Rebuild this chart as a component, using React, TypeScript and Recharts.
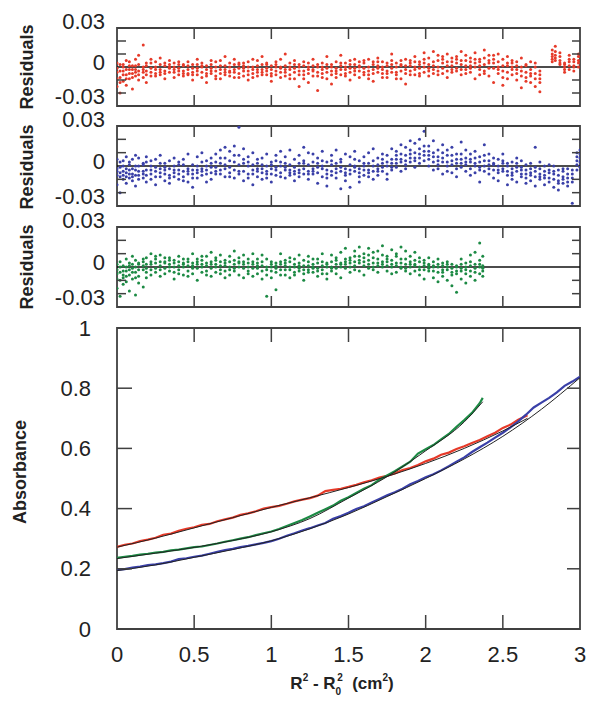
import React from 'react';
import { ComposedChart, Scatter, Line, XAxis, YAxis, ReferenceLine, ReferenceArea } from 'recharts';

const RED = '#e63a29';
const BLUE = '#3a40a8';
const GREEN = '#1c8a44';
const FRAME = '#404040';
const FONT = '"Liberation Sans", Arial, sans-serif';

const X_TICKS = [0, 0.5, 1, 1.5, 2, 2.5, 3];
const RES_TICKS = [-0.03, -0.02, -0.01, 0, 0.01, 0.02, 0.03];
const ABS_TICKS = [0, 0.2, 0.4, 0.6, 0.8, 1];

// residual rows: [x * 100, r1..r5] with residuals in units of 0.001
const RED_RES: number[][] = [
  [0, -4, -15, 3, -9, -1], [2, -8, 2, -20, -3, -12], [4, 2, -11, -3, -6, 0], [6, -6, 5, -14, -2, -9],
  [8, -2, -9, 4, -5, 1], [10, 1, -17, -5, -8, -2], [12, -7, 6, -2, -4, 1], [14, -3, 9, -10, -6, 2],
  [17, 17, -4, -8, 0, -2], [19, 3, -6, -12, -3, 1], [22, -1, 6, -7, -4, 3], [25, -5, 4, -2, -7, 0],
  [28, 2, -6, 7, -2, -4], [31, -3, 1, -9, -5, 3], [34, 5, -4, 0, -1, 2], [37, -2, 3, -8, -4, 0],
  [40, -6, 2, 4, -3, -1], [43, 1, -3, -7, 2, -5], [46, 4, -5, 1, -2, -6], [49, -4, 2, -10, -1, -6],
  [52, -1, 6, -6, -3, 2], [55, 3, -8, 0, -4, 1], [58, -5, 1, -12, -2, -7], [61, 2, -3, 5, -5, -1],
  [64, -7, 0, 4, -3, -9], [67, -2, 5, -9, -5, 1], [70, 1, -6, 8, -2, -4], [73, -4, 3, -3, -7, 0],
  [76, 6, -2, -8, -4, 2], [79, -1, 2, -5, -8, 3], [82, 3, -7, 1, -3, -1], [85, -3, 4, -10, -6, 0],
  [88, 0, -5, 6, -2, -8], [91, 5, -2, -7, -4, 1], [94, -2, 8, -4, -6, 2], [97, 2, -6, 3, -1, -3],
  [100, -5, 1, -11, -2, -7], [103, 4, -3, 0, -6, 2], [106, -1, 6, -8, -4, 0], [109, 1, -4, 10, -2, -7],
  [112, -6, 3, -2, -9, 0], [115, 2, -9, 5, -4, -1], [118, -3, 0, -15, -6, 2], [121, 4, -6, 1, -3, -9],
  [124, -2, 3, -12, -5, 0], [127, 1, -7, 6, -3, -2], [130, -4, 2, -18, -7, 0], [133, 3, -5, 0, -2, -8],
  [136, -1, 8, -9, -4, 2], [139, 2, -3, -13, -6, 0], [142, -5, 4, -1, -3, -8], [145, 1, -6, 9, -2, 3],
  [148, -2, 3, -7, -5, 0], [151, 5, -1, -10, -4, 2], [154, -3, 2, 6, -6, -1], [157, 0, -8, 4, -3, 1],
  [160, 3, -4, -1, -6, 5], [163, -6, 6, -3, 0, -9], [166, 2, -2, -11, -5, 4], [169, -1, 4, 7, -4, 1],
  [172, 4, -5, 0, -2, -8], [175, -3, 1, -8, 3, -5], [178, 2, 10, -4, -1, 5], [181, -4, 3, -6, 0, -9],
  [184, 1, -9, 5, -3, 2], [187, -2, 6, -13, -5, 1], [190, 5, -3, 1, -6, 3], [193, 0, 8, -6, -2, 4],
  [196, -5, 2, 4, -1, -7], [199, 3, -4, 11, 0, 6], [202, -1, 7, -7, 2, -3], [205, 4, -2, 12, -5, 1],
  [208, -3, 9, 0, 5, -6], [211, 6, -5, 3, -1, 8], [214, 1, 10, -8, -3, 4], [217, -4, 4, 7, 1, -2],
  [220, 8, -1, -3, 3, 6], [223, 2, 12, -6, -2, 5], [226, -2, 5, 9, 1, -5], [229, 7, -4, 1, 4, -1],
  [232, 0, 11, -9, 3, 6], [235, 4, -6, 6, -2, 1], [238, -3, 13, 2, 7, -5], [241, 9, -1, -7, 3, 5],
  [244, 3, 6, -12, -1, 9], [247, -5, 10, 0, 4, -2], [250, 6, -3, -14, 1, -8], [253, 1, 8, -9, -4, 3],
  [256, -6, 3, 5, -2, 0], [259, 4, -10, -2, -5, 1], [262, -3, 7, -16, -7, 0], [265, 2, -8, 1, -4, -11],
  [268, -7, 4, -12, -2, -5], [271, 0, -15, -5, -9, 3], [274, -9, -3, -19, -6, -12],
  [282, 10, 6, 4, 13, 8], [284, 16, 9, 12, 5, 7], [287, 5, 8, 2, 11, 3], [290, 0, -4, 3, 2, -2],
  [293, 6, -2, 9, 1, 4], [296, -3, 4, 1, 0, 6], [299, 8, 0, 5, 3, 10],
];

const BLUE_RES: number[][] = [
  [0, -2, -14, 5, -7, -4], [2, -8, 3, -20, -5, -1], [4, 4, -10, -4, -7, 0], [6, -5, 7, -13, -2, -8],
  [8, 1, -9, -3, -6, 3], [10, -11, 5, -6, -2, -8], [12, -3, 8, -15, -7, 0], [14, 6, -7, 0, -4, -10],
  [17, -9, 2, -4, -6, 1], [19, 3, -12, 7, -3, -7], [22, -6, 0, -10, -3, 4], [25, 5, -4, -14, -8, -1],
  [28, -2, 8, -8, -5, 2], [31, 2, -11, -1, -6, -3], [34, -7, 4, -13, -2, -9], [37, 0, -5, 6, -8, -3],
  [40, -10, 3, -3, -6, 1], [43, 5, -8, 1, -4, -11], [46, -4, 9, -12, -2, -6], [49, 1, -6, -16, -3, -9],
  [52, 7, -3, -9, -5, 0], [55, -2, 10, -7, -4, 3], [58, 4, -12, 0, -6, -3], [61, -5, 6, -10, -1, 2],
  [64, 9, -1, -6, -4, 3], [67, -3, 12, 2, -6, 6], [70, 6, -8, 14, -2, 1], [73, -1, 11, -5, 4, -8],
  [76, 15, 3, -9, -3, 8], [79, 29, -4, 8, 1, -6], [82, 2, 13, -11, -4, 5], [85, -6, 7, 0, -9, 3],
  [88, 10, -3, -14, -6, 1], [91, -2, 5, -8, -4, 2], [94, 6, -10, 1, -5, -2], [97, -4, 9, -6, 0, -9],
  [100, 3, -12, -2, -6, 1], [103, -7, 4, 8, -3, -1], [106, 0, -5, 11, -8, 3], [109, 7, -9, -3, -1, 2],
  [112, -3, 12, -7, -5, 1], [115, 5, -1, -11, -4, -6], [118, -8, 8, 2, -3, -5], [121, 2, -6, 14, -2, 4],
  [124, -4, 10, -10, 1, -6], [127, 9, -2, -6, -4, 3], [130, -1, 6, -13, -5, 2], [133, 4, -8, 11, -2, 0],
  [136, -6, 3, -15, -3, -9], [139, 8, -4, 1, -7, 4], [142, -2, 12, -9, -5, 2], [145, 3, -17, 5, -4, -1],
  [148, -5, 9, -11, -2, -7], [151, 7, -3, -16, -6, 1], [154, -1, 11, 0, -4, 5], [157, 4, -8, -12, -2, -5],
  [160, -7, 2, 7, -3, 0], [163, 10, -5, -3, 2, -8], [166, 0, -10, 13, -4, 4], [169, 6, -2, -7, 1, -4],
  [172, -4, 9, 2, -1, 5], [175, 8, -6, -10, 0, 3], [178, 2, 13, -3, 5, -1], [181, 11, -1, 5, 2, 8],
  [184, 5, 16, -4, 3, 9], [187, -2, 8, 14, 4, 1], [190, 12, 3, 19, 6, 9], [193, 6, 17, -1, 10, 4],
  [196, 20, 9, 2, 13, 6], [199, 4, 26, 11, 8, 15], [202, 15, 0, 8, 5, 11], [205, 7, 19, -3, 10, 3],
  [208, -2, 12, 4, 7, 1], [211, 10, -6, 16, 3, 6], [214, 3, 8, -4, 12, 0], [217, -5, 14, 1, 4, 8],
  [220, 9, 2, -8, 5, -2], [223, -1, 18, 5, 2, 9], [226, 6, -4, 12, 1, 3], [229, -7, 3, 9, -2, 5],
  [232, 2, 11, -5, 0, 6], [235, -3, 7, -12, -1, 3], [238, 8, 16, 0, 4, -4], [241, -6, 4, -2, 1, 9],
  [244, 1, -9, 6, -3, 2], [247, 5, -3, -11, 0, -5], [250, -4, 9, 2, -2, 4], [253, 0, -7, -14, -4, 2],
  [256, -10, 3, -5, -2, -7], [259, 6, -12, -1, -4, 2], [262, -3, -8, 4, -6, -1], [265, -13, 1, -6, -3, -9],
  [268, 2, -5, -11, -2, -7], [271, -8, 14, -15, -4, -1], [274, -2, -10, 3, -6, -8], [277, -14, -4, -7, -9, 0],
  [280, 1, -9, -12, -5, -3], [283, -6, -16, 0, -10, -4], [286, -11, -3, -18, -7, -13], [289, -4, -8, -13, -2, -10],
  [292, -9, -15, -2, -6, -12], [295, -28, -6, -12, -3, -9], [298, 4, 10, -3, 7, 1], [300, 12, 6, -1, 9, 3],
];

const GREEN_RES: number[][] = [
  [0, -5, -16, 2, -9, -2], [2, -10, 4, -22, -4, 0], [4, 1, -8, -13, -3, -6], [6, -3, 6, -11, 0, -7],
  [8, 3, -6, -18, -2, 1], [10, -1, 8, -9, 2, -4], [12, 5, -4, -21, 0, -8], [14, -7, 2, -12, 3, -2],
  [17, 4, -2, -15, 1, 6], [19, -4, 7, -8, 2, -1], [22, 2, -6, 10, 4, -2], [25, 6, -1, -4, 3, 8],
  [28, -2, 9, -7, 1, 4], [31, 3, -5, 4, -1, 7], [34, 7, 0, -3, 2, 5], [37, -4, 5, -9, 0, 3],
  [40, 1, 8, -2, 4, -5], [43, -6, 3, 6, 0, 2], [46, 4, -3, -7, 1, 6], [49, 10, 1, -5, 3, -1],
  [52, -1, 6, -10, 2, 4], [55, 5, -4, 2, 0, 8], [58, -3, 8, -6, 1, 3], [61, 2, -7, 11, 4, -1],
  [64, 7, 0, -4, 2, 5], [67, -5, 4, 9, 1, -2], [70, 1, -8, 5, 3, -3], [73, 8, -2, -6, 0, 4],
  [76, -3, 5, 12, 2, -1], [79, 4, -6, 0, 3, 7], [82, -1, 9, -8, 2, 4], [85, 6, -3, 3, 0, -5],
  [88, -7, 2, 10, 4, -1], [91, 3, -5, -1, 1, 6], [94, 9, 1, -9, -3, 4], [97, -2, 6, -22, 0, -6],
  [100, 4, -8, 0, 2, -3], [103, -4, 3, -17, -1, 1], [106, 2, 10, -6, 4, -2], [109, -6, 5, 1, -2, 3],
  [112, 7, -2, -8, 0, 4], [115, 0, 6, -4, 2, -6], [118, -3, 9, 3, -1, 1], [121, 5, -5, -10, 1, -2],
  [124, 1, 8, -2, 4, -4], [127, -4, 2, 6, 0, -1], [130, 6, -7, -1, 3, -3], [133, -2, 4, 10, 1, -5],
  [136, 3, -9, -5, 0, 2], [139, 9, 0, -3, 4, -1], [142, -5, 5, 2, -1, 7], [145, 2, 11, -8, 3, 0],
  [148, -1, 6, 14, 2, 4], [151, 7, -4, 3, 5, 0], [154, 4, 12, -2, 1, 8], [157, -3, 8, 15, 3, 5],
  [160, 10, 1, -6, 4, 7], [163, 5, 14, -1, 2, 9], [166, -2, 7, 11, 3, 0], [169, 12, 3, -4, 6, 1],
  [172, 0, 9, 16, 4, 2], [175, 6, -3, 4, 1, 8], [178, 13, 2, -5, 5, 0], [181, -4, 8, 10, 1, 3],
  [184, 3, 15, -1, 6, 0], [187, -1, 6, 12, 2, -3], [190, 8, -5, 2, 0, 4], [193, 2, 11, -3, 1, 5],
  [196, -6, 4, 7, 0, -2], [199, 5, -2, -9, 1, 3], [202, -3, 7, 1, -1, 2], [205, 1, -8, 4, -3, 0],
  [208, 6, -4, -11, 0, 2], [211, -2, 3, -7, 1, -4], [214, 4, -10, 0, -2, 2], [217, -6, 2, -14, -1, -4],
  [220, 1, -5, -19, -3, 0], [223, -9, 6, -3, -1, 2], [226, 3, -2, -12, -5, 0], [229, 9, -7, 1, -3, 4],
  [232, -4, 11, -10, 2, -1], [235, 2, 18, 5, -5, 0], [237, -1, 8, -3, 1, -7],
];

// absorbance traces [x, A]
const RED_ABS: number[][] = [
  [0, .273], [.05, .280], [.1, .284], [.15, .292], [.2, .297], [.25, .303], [.3, .313], [.35, .317], [.4, .326],
  [.45, .333], [.5, .338], [.55, .346], [.6, .349], [.65, .358], [.7, .364], [.75, .370], [.8, .379], [.85, .384],
  [.9, .391], [.95, .400], [1, .405], [1.05, .409], [1.1, .416], [1.15, .424], [1.2, .430], [1.25, .435], [1.3, .443],
  [1.35, .458], [1.4, .462], [1.45, .466], [1.5, .472], [1.55, .479], [1.6, .487], [1.65, .494], [1.7, .503],
  [1.75, .509], [1.8, .517], [1.85, .528], [1.9, .535], [1.95, .545], [2, .557], [2.05, .566], [2.1, .579],
  [2.15, .586], [2.2, .598], [2.25, .607], [2.3, .618], [2.35, .628], [2.4, .640], [2.45, .652], [2.5, .668],
  [2.55, .679], [2.6, .695], [2.66, .710],
];
const RED_FIT: number[][] = [
  [0, .272], [.25, .302], [.5, .336], [.75, .370], [1, .404], [1.25, .436], [1.5, .470], [1.75, .507],
  [2, .550], [2.25, .600], [2.5, .658], [2.66, .700],
];

const GREEN_ABS: number[][] = [
  [0, .236], [.05, .240], [.1, .243], [.15, .247], [.2, .250], [.25, .254], [.3, .256], [.35, .261], [.4, .264],
  [.45, .268], [.5, .272], [.55, .274], [.6, .279], [.65, .284], [.7, .290], [.75, .295], [.8, .300], [.85, .305],
  [.9, .312], [.95, .318], [1, .324], [1.05, .332], [1.1, .342], [1.15, .352], [1.2, .362], [1.25, .374], [1.3, .386],
  [1.35, .398], [1.4, .410], [1.45, .426], [1.5, .438], [1.55, .452], [1.6, .466], [1.65, .478], [1.7, .496],
  [1.75, .510], [1.8, .524], [1.85, .540], [1.9, .556], [1.95, .583], [2, .597], [2.05, .611], [2.1, .630],
  [2.15, .648], [2.2, .672], [2.25, .694], [2.3, .718], [2.35, .750], [2.37, .768],
];
const GREEN_FIT: number[][] = [
  [0, .234], [.25, .252], [.5, .271], [.75, .294], [1, .323], [1.25, .367], [1.5, .435], [1.75, .506],
  [2, .592], [2.25, .688], [2.37, .755],
];

const BLUE_ABS: number[][] = [
  [0, .196], [.05, .199], [.1, .204], [.15, .207], [.2, .212], [.25, .215], [.3, .219], [.35, .224], [.4, .232],
  [.45, .235], [.5, .240], [.55, .244], [.6, .250], [.65, .256], [.7, .262], [.75, .266], [.8, .272], [.85, .276],
  [.9, .281], [.95, .286], [1, .292], [1.05, .300], [1.1, .310], [1.15, .318], [1.2, .327], [1.25, .335], [1.3, .344],
  [1.35, .352], [1.4, .366], [1.45, .375], [1.5, .386], [1.55, .399], [1.6, .408], [1.65, .420], [1.7, .432],
  [1.75, .444], [1.8, .454], [1.85, .466], [1.9, .481], [1.95, .492], [2, .504], [2.05, .514], [2.1, .527],
  [2.15, .541], [2.2, .556], [2.25, .570], [2.3, .588], [2.35, .604], [2.4, .619], [2.45, .636], [2.5, .652],
  [2.55, .670], [2.6, .690], [2.65, .712], [2.7, .736], [2.75, .752], [2.8, .768], [2.85, .786], [2.9, .808],
  [2.95, .822], [3, .838],
];
const BLUE_FIT: number[][] = [
  [0, .194], [.25, .213], [.5, .238], [.75, .264], [1, .293], [1.25, .333], [1.5, .382], [1.75, .440],
  [2, .500], [2.25, .565], [2.5, .640], [2.75, .730], [3, .835],
];

const W = 589;
const H = 704;
const LEFT = 117;
const RIGHT = 580;
const YAXIS_W = 60;
const XAXIS_H = 20;

const resPoints = (rows: number[][]) =>
  rows.flatMap(([x, ...rs]) => rs.map((r) => ({ x: x / 100, y: r / 1000 })));
const absPoints = (rows: number[][]) => rows.map(([x, a]) => ({ x, a }));

const textStyle = { fontFamily: FONT, fontSize: 22, fill: '#222' };

function makeXTick(top: number, bottom: number, len: number, labels: boolean) {
  return (p: any) => {
    const v = p.payload.value;
    const inner = v > 0 && v < 3;
    return (
      <g>
        {inner && <line x1={p.x} x2={p.x} y1={bottom} y2={bottom - len} stroke={FRAME} strokeWidth={1.5} />}
        {inner && <line x1={p.x} x2={p.x} y1={top} y2={top + len} stroke={FRAME} strokeWidth={1.5} />}
        {labels && (
          <text x={p.x} y={bottom + 33} textAnchor="middle" {...textStyle}>
            {String(v)}
          </text>
        )}
      </g>
    );
  };
}

const resYTick = (p: any) => {
  const v = p.payload.value;
  const minor = v !== 0 && Math.abs(v) < 0.025;
  const off = v > 0 ? -6.5 : v < 0 ? -9.5 : -5;
  return (
    <g>
      {minor && <line x1={LEFT} x2={LEFT + 9} y1={p.y} y2={p.y} stroke={FRAME} strokeWidth={1.5} />}
      {minor && <line x1={RIGHT} x2={RIGHT - 8} y1={p.y} y2={p.y} stroke={FRAME} strokeWidth={1.5} />}
      {!minor && (
        <text x={105} y={p.y + 7.5 + off} textAnchor="end" {...textStyle}>
          {String(v)}
        </text>
      )}
    </g>
  );
};

const absYTick = (p: any) => {
  const v = p.payload.value;
  const inner = v > 0 && v < 1;
  return (
    <g>
      {inner && <line x1={LEFT} x2={LEFT + 15} y1={p.y} y2={p.y} stroke={FRAME} strokeWidth={1.5} />}
      {inner && <line x1={RIGHT} x2={RIGHT - 13} y1={p.y} y2={p.y} stroke={FRAME} strokeWidth={1.5} />}
      <text x={91} y={p.y + 7.5} textAnchor="end" {...textStyle}>
        {String(v)}
      </text>
    </g>
  );
};

function ResidualPanel({ top, bottom, rows, color }: { top: number; bottom: number; rows: number[][]; color: string }) {
  const data = resPoints(rows);
  return (
    <div style={{ position: 'absolute', left: 0, top: 0 }}>
      <ComposedChart
        width={W}
        height={H}
        margin={{ top, bottom: H - bottom - XAXIS_H, left: LEFT - YAXIS_W, right: W - RIGHT }}
      >
        <XAxis
          dataKey="x"
          type="number"
          domain={[0, 3]}
          ticks={X_TICKS}
          interval={0}
          allowDataOverflow
          height={XAXIS_H}
          axisLine={false}
          tickLine={false}
          tick={makeXTick(top, bottom, 11, false)}
        />
        <YAxis
          dataKey="y"
          type="number"
          domain={[-0.03, 0.03]}
          ticks={RES_TICKS}
          interval={0}
          allowDataOverflow
          width={YAXIS_W}
          axisLine={false}
          tickLine={false}
          tick={resYTick}
        />
        <Scatter
          data={data}
          isAnimationActive={false}
          shape={(s: any) => <circle cx={s.cx} cy={s.cy} r={1.5} fill={color} />}
        />
        <ReferenceLine y={0} stroke="#111" strokeWidth={1.3} />
        <ReferenceArea x1={0} x2={3} y1={-0.03} y2={0.03} fill="none" fillOpacity={0} stroke={FRAME} strokeWidth={1.8} />
      </ComposedChart>
    </div>
  );
}

function AbsorbancePanel({ top, bottom }: { top: number; bottom: number }) {
  const traces = [
    { key: 'red', data: absPoints(RED_ABS), color: RED },
    { key: 'green', data: absPoints(GREEN_ABS), color: GREEN },
    { key: 'blue', data: absPoints(BLUE_ABS), color: BLUE },
  ];
  const fits = [
    { key: 'redfit', data: absPoints(RED_FIT) },
    { key: 'greenfit', data: absPoints(GREEN_FIT) },
    { key: 'bluefit', data: absPoints(BLUE_FIT) },
  ];
  return (
    <div style={{ position: 'absolute', left: 0, top: 0 }}>
      <ComposedChart
        width={W}
        height={H}
        margin={{ top, bottom: H - bottom - XAXIS_H, left: LEFT - YAXIS_W, right: W - RIGHT }}
      >
        <XAxis
          dataKey="x"
          type="number"
          domain={[0, 3]}
          ticks={X_TICKS}
          interval={0}
          allowDataOverflow
          height={XAXIS_H}
          axisLine={false}
          tickLine={false}
          tick={makeXTick(top, bottom, 14, true)}
        />
        <YAxis
          type="number"
          domain={[0, 1]}
          ticks={ABS_TICKS}
          interval={0}
          allowDataOverflow
          width={YAXIS_W}
          axisLine={false}
          tickLine={false}
          tick={absYTick}
        />
        {traces.map((t) => (
          <Line
            key={t.key}
            data={t.data}
            dataKey="a"
            type="linear"
            stroke={t.color}
            strokeWidth={2.2}
            dot={false}
            isAnimationActive={false}
          />
        ))}
        {fits.map((f) => (
          <Line
            key={f.key}
            data={f.data}
            dataKey="a"
            type="monotone"
            stroke="#222"
            strokeWidth={1}
            dot={false}
            isAnimationActive={false}
          />
        ))}
        <ReferenceArea x1={0} x2={3} y1={0} y2={1} fill="none" fillOpacity={0} stroke={FRAME} strokeWidth={1.8} />
      </ComposedChart>
    </div>
  );
}

function Titles() {
  const bold = { fontFamily: FONT, fontWeight: 700, fill: '#222' };
  const resCenters = [67, 167, 267];
  return (
    <svg width={W} height={H} style={{ position: 'absolute', left: 0, top: 0, pointerEvents: 'none' }}>
      {resCenters.map((c) => (
        <text key={c} transform={`translate(33,${c}) rotate(-90)`} textAnchor="middle" fontSize={18} {...bold}>
          Residuals
        </text>
      ))}
      <text transform="translate(26,472) rotate(-90)" textAnchor="middle" fontSize={18} {...bold}>
        Absorbance
      </text>
      <text x={342} y={689} textAnchor="middle" fontSize={17} {...bold} style={{ whiteSpace: 'pre' }}>
        <tspan>R</tspan>
        <tspan dy={-8} fontSize={10}>2</tspan>
        <tspan dy={8}> - R</tspan>
        <tspan dy={6} fontSize={10}>0</tspan>
        <tspan dy={-14} dx={-4} fontSize={10}>2</tspan>
        <tspan dy={8}>  (cm</tspan>
        <tspan dy={-8} fontSize={10}>2</tspan>
        <tspan dy={8}>)</tspan>
      </text>
    </svg>
  );
}

export default function App() {
  return (
    <div style={{ position: 'absolute', left: 0, top: 0, width: W, height: H, background: '#fff' }}>
      <ResidualPanel top={28} bottom={106} rows={RED_RES} color={RED} />
      <ResidualPanel top={126} bottom={206} rows={BLUE_RES} color={BLUE} />
      <ResidualPanel top={227} bottom={307} rows={GREEN_RES} color={GREEN} />
      <AbsorbancePanel top={328} bottom={629} />
      <Titles />
    </div>
  );
}
